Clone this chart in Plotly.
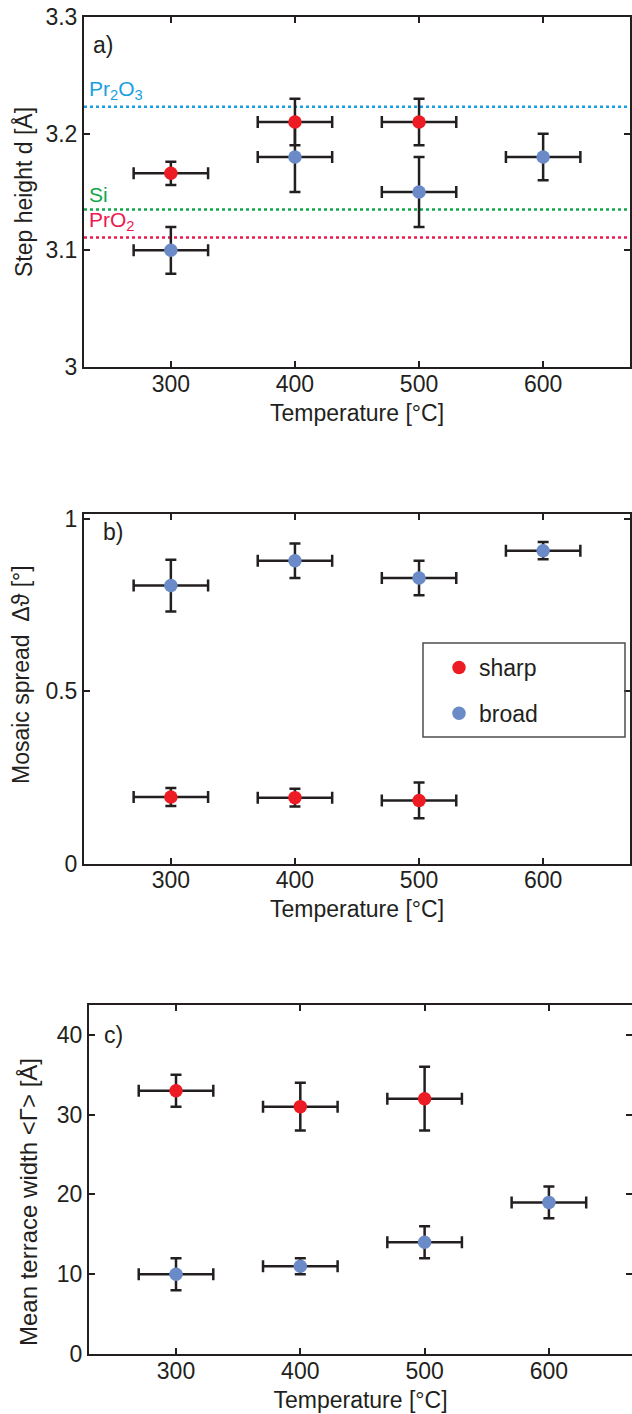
import plotly.graph_objects as go

# ---------------- data ----------------
temp_sharp = [300, 400, 500]
temp_broad = [300, 400, 500, 600]
temp_err = 30

step_sharp = [3.166, 3.21, 3.21]
step_sharp_err = [0.01, 0.02, 0.02]
step_broad = [3.10, 3.18, 3.15, 3.18]
step_broad_err = [0.02, 0.03, 0.03, 0.02]

mosaic_sharp = [0.193, 0.191, 0.183]
mosaic_sharp_err = [0.026, 0.026, 0.052]
mosaic_broad = [0.806, 0.878, 0.828, 0.907]
mosaic_broad_err = [0.075, 0.05, 0.05, 0.025]

terrace_sharp = [33, 31, 32]
terrace_sharp_err = [2, 3, 4]
terrace_broad = [10, 11, 14, 19]
terrace_broad_err = [2, 1, 2, 2]

ref_names = ["Pr<sub>2</sub>O<sub>3</sub>", "Si", "PrO<sub>2</sub>"]
ref_values = [3.223, 3.135, 3.111]
ref_colors = ["#1a9fe0", "#13a64b", "#ec1a4e"]

panel_labels = ["a)", "b)", "c)"]
x_ticks = [300, 400, 500, 600]

# ---------------- style ----------------
OFF = 0                      # body margin removed by post_script below
W, H = 632 - OFF, 1414 - OFF
INK = "#231f20"
RED = "#ed1c24"
BLUE = "#6a8bc8"
FONT = "Liberation Sans, Arial, Helvetica, sans-serif"
FS = 23


def px_x(p):
    return (p - OFF) / W


def px_y(p):
    return 1 - (p - OFF) / H


fig = go.Figure()


def add_pair(xa, ya, ys, ys_err, yb, yb_err, legend):
    common = dict(mode="markers", xaxis=xa, yaxis=ya, hoverinfo="skip")
    err_x = dict(type="constant", value=temp_err, thickness=2.5, width=6, color=INK)
    fig.add_trace(go.Scatter(
        x=temp_broad, y=yb, name="broad", legendgroup="broad", legendrank=2,
        showlegend=legend,
        marker=dict(color=BLUE, size=13.5, line=dict(width=0)),
        error_x=err_x,
        error_y=dict(type="data", array=yb_err, thickness=2.5, width=5.5, color=INK),
        **common))
    fig.add_trace(go.Scatter(
        x=temp_sharp, y=ys, name="sharp", legendgroup="sharp", legendrank=1,
        showlegend=legend,
        marker=dict(color=RED, size=13.5, line=dict(width=0)),
        error_x=err_x,
        error_y=dict(type="data", array=ys_err, thickness=2.5, width=5.5, color=INK),
        **common))


add_pair("x", "y", step_sharp, step_sharp_err, step_broad, step_broad_err, False)
add_pair("x2", "y2", mosaic_sharp, mosaic_sharp_err, mosaic_broad, mosaic_broad_err, True)
add_pair("x3", "y3", terrace_sharp, terrace_sharp_err, terrace_broad, terrace_broad_err, False)
# empty trace so the right-hand tick axis of panel c is drawn
fig.add_trace(go.Scatter(x=[], y=[], xaxis="x3", yaxis="y4", showlegend=False,
                         hoverinfo="skip"))

axis_common = dict(
    showline=True, linewidth=2, linecolor=INK, ticks="inside", ticklen=6,
    tickwidth=1.5, tickcolor=INK, showgrid=False, zeroline=False,
    automargin=False, ticklabeloverflow="allow",
    tickfont=dict(family=FONT, size=FS, color=INK),
)
xaxis_extra = dict(ticklabelstandoff=-5)

xtitle = dict(text="Temperature [°C]", font=dict(family=FONT, size=FS, color=INK), standoff=9)

x3_right = 230 + (632 - 89) / 1.243

fig.update_layout(
    width=W, height=H,
    margin=dict(l=0, r=0, t=0, b=0),
    paper_bgcolor="white", plot_bgcolor="white",
    font=dict(family=FONT, size=FS, color=INK),
    showlegend=True,
    legend=dict(x=px_x(439), y=px_y(646), xanchor="left", yanchor="top",
                bgcolor="rgba(0,0,0,0)", borderwidth=0,
                tracegroupgap=13, font=dict(family=FONT, size=FS, color=INK),
                traceorder="grouped"),
    xaxis=dict(domain=[px_x(84), px_x(630)], range=[230, 670], anchor="y",
               tickvals=x_ticks, mirror="ticks", title=xtitle, **axis_common, **xaxis_extra),
    yaxis=dict(domain=[px_y(367), px_y(17)], range=[2.99999, 3.30001], anchor="x",
               tickvals=[3.0, 3.1, 3.2, 3.3], ticktext=["3", "3.1", "3.2", "3.3"],
               mirror="ticks",
               title=dict(text="Step height d [Å]", standoff=6,
                          font=dict(family=FONT, size=FS, color=INK)),
               **axis_common),
    xaxis2=dict(domain=[px_x(84), px_x(630)], range=[230, 670], anchor="y2",
                tickvals=x_ticks, mirror="ticks", title=xtitle, **axis_common, **xaxis_extra),
    yaxis2=dict(domain=[px_y(863.5), px_y(513.5)], range=[0, 1.015], anchor="x2",
                tickvals=[0, 0.5, 1], ticktext=["0", "0.5", "1"], mirror="ticks",
                **axis_common),
    xaxis3=dict(domain=[px_x(89), 1.0], range=[230, x3_right],
                anchor="y3", tickvals=x_ticks, mirror="ticks", title=xtitle,
                **axis_common, **xaxis_extra),
    yaxis3=dict(domain=[px_y(1354), px_y(1004.5)], range=[0, 43.8], anchor="x3",
                tickvals=[0, 10, 20, 30, 40], mirror=False, **axis_common),
    yaxis4=dict(overlaying="y3", side="right", anchor="x3", matches="y3",
                range=[0, 43.8], tickvals=[0, 10, 20, 30, 40], showline=False,
                ticks="inside", ticklen=6, tickwidth=1.5, tickcolor=INK,
                showticklabels=False, showgrid=False, zeroline=False),
)

# y titles of panels b and c (off-centre in the reference)
fig.add_annotation(xref="paper", yref="paper", x=px_x(21), y=px_y(675),
                   text="Mosaic spread  Δϑ [°]", textangle=-90, showarrow=False,
                   xanchor="center", yanchor="middle",
                   font=dict(family=FONT, size=FS, color=INK))
fig.add_annotation(xref="paper", yref="paper", x=px_x(28), y=px_y(1202),
                   text="Mean terrace width &lt;Γ&gt; [Å]", textangle=-90, showarrow=False,
                   xanchor="center", yanchor="middle",
                   font=dict(family=FONT, size=24, color=INK))

# reference lines (panel a)
for name, val, col in zip(ref_names, ref_values, ref_colors):
    fig.add_shape(type="line", xref="x domain", yref="y", x0=0, x1=1, y0=val, y1=val,
                  line=dict(color=col, width=2.5, dash="dot"), layer="below")
    fig.add_annotation(xref="x domain", yref="y", x=0.006, y=val, text=name,
                       xanchor="left", yanchor="bottom", yshift=2, showarrow=False,
                       font=dict(family=FONT, size=21, color=col))

# panel labels
label_pos = {"a)": (0.012, 0.919), "b)": (0.031, 0.948), "c)": (0.024, 0.913)}
for lab, xr, yr in zip(panel_labels, ["x", "x2", "x3"], ["y", "y2", "y3"]):
    lx, ly = label_pos[lab]
    fig.add_annotation(xref=f"{xr} domain", yref=f"{yr} domain", x=lx, y=ly,
                       text=lab, xanchor="left", yanchor="middle",
                       showarrow=False, font=dict(family=FONT, size=FS, color=INK))

# legend frame (panel b)
fig.add_shape(type="rect", xref="paper", yref="paper",
              x0=px_x(423), x1=px_x(625), y0=px_y(737), y1=px_y(643),
              line=dict(color="#4d4d4d", width=1.5), fillcolor="rgba(0,0,0,0)")

fig.write_html("out.html",
               config={"displayModeBar": False},
               post_script="document.body.style.margin='0';document.body.style.overflow='hidden';")
